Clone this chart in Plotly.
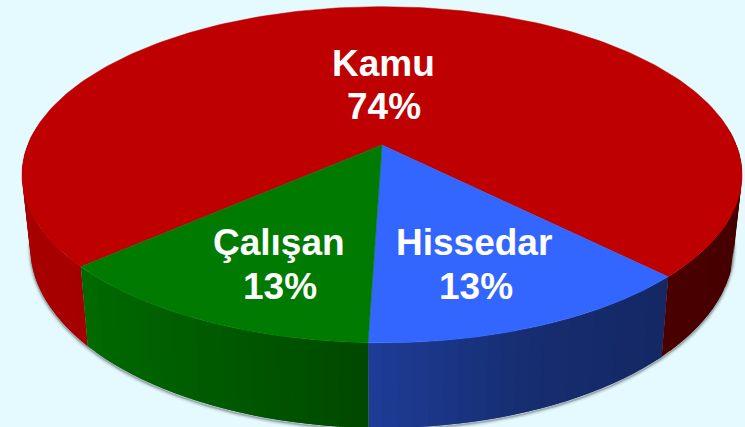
import numpy as np
import plotly.graph_objects as go

# Data (clockwise on screen from the front edge)
categories = ["Hissedar", "Kamu", "Çalışan"]
values = [13, 74, 13]
top_colors = ["#3366FF", "#BE0000", "#007A00"]
background = "#E5FAFF"

# Projection of the tilted disc
START_DEG = -1.86
CX, CY = 382.0, 145.0
DIST, FX, FY = 5.65, 2002.0, 920.0
BOTTOM_SCALE, WALL_H = 0.977, 396.0
STEP = np.radians(2.0)


def project(t, bottom=False):
    X, Y = np.sin(t), np.cos(t)
    s = BOTTOM_SCALE if bottom else 1.0
    d = WALL_H / (DIST - Y) if bottom else 0.0
    return CX + s * FX * X / (DIST - Y), CY + FY * Y / (DIST - Y) + d


def shade(hex_color, t):
    k = np.interp(np.sin(t), [-1, -0.75, -0.35, 0, 0.35, 0.7, 1],
                  [0.88, 0.87, 0.72, 0.58, 0.44, 0.39, 0.36])
    r, g, b = (int(hex_color[i:i + 2], 16) for i in (1, 3, 5))
    return f"rgb({r * k:.0f},{g * k:.0f},{b * k:.0f})"


def wall_piece(a, b, col):
    tt = np.linspace(a, b, 8)
    xt, yt = project(tt)
    xb, yb = project(tt[::-1], bottom=True)
    fig.add_trace(go.Scatter(x=np.r_[xt, xb, xt[0]], y=np.r_[yt, yb, yt[0]], mode="lines",
                             fill="toself", fillcolor=col, line=dict(width=0),
                             hoverinfo="skip", showlegend=False))


fracs = np.array(values) / sum(values)
edges = np.radians(START_DEG) + 2 * np.pi * np.concatenate([[0], np.cumsum(fracs)])

fig = go.Figure()

# Soft shadow under the disc
ring = np.linspace(0, 2 * np.pi, 361)
sx, sy = project(ring, bottom=True)
for width, alpha in [(7, 0.05), (5, 0.08), (3, 0.14), (1.5, 0.25)]:
    fig.add_trace(go.Scatter(x=sx, y=sy + 1.5, mode="lines",
                             line=dict(color=f"rgba(60,70,80,{alpha})", width=width),
                             hoverinfo="skip", showlegend=False))

# Side wall: each band overlaps into the next one, which paints over it, so no seams show.
for i, c in enumerate(top_colors):
    n = max(2, int((edges[i + 1] - edges[i]) / STEP))
    ts = np.linspace(edges[i], edges[i + 1], n + 1)
    mids = (ts[:-1] + ts[1:]) / 2
    for j in range(n):
        if np.cos(mids[j]) > -0.1:
            wall_piece(ts[j], ts[min(j + 2, n)], shade(c, mids[j]))

# Top face, one wedge per slice
for i in [1, 0, 2]:
    tt = np.linspace(edges[i], edges[i + 1], 240)
    xt, yt = project(tt)
    fig.add_trace(go.Scatter(x=np.r_[CX, xt, CX], y=np.r_[CY, yt, CY], mode="lines",
                             fill="toself", fillcolor=top_colors[i],
                             line=dict(color=top_colors[i], width=0.5),
                             hoverinfo="skip", showlegend=False, name=categories[i]))

# Labels
label_lines = [
    (383, 63, "Kamu"), (384, 106, "74%"),
    (278.5, 242, "Çalışan"), (280, 286, "13%"),
    (474, 242, "Hissedar"), (476, 286, "13%"),
]
for x, y, text in label_lines:
    fig.add_annotation(x=x, y=y, text=f"<b>{text}</b>", showarrow=False, xanchor="center",
                       yanchor="middle", font=dict(family="Liberation Sans", size=37, color="white"))

fig.update_layout(
    width=745, height=427, margin=dict(l=0, r=0, t=0, b=0),
    paper_bgcolor=background, plot_bgcolor=background, showlegend=False,
    xaxis=dict(range=[0, 745], visible=False, fixedrange=True),
    yaxis=dict(range=[427, 0], visible=False, fixedrange=True),
)
fig.write_html("out.html", config={"displayModeBar": False},
               post_script="document.body.style.margin='0';document.body.style.overflow='hidden';")
